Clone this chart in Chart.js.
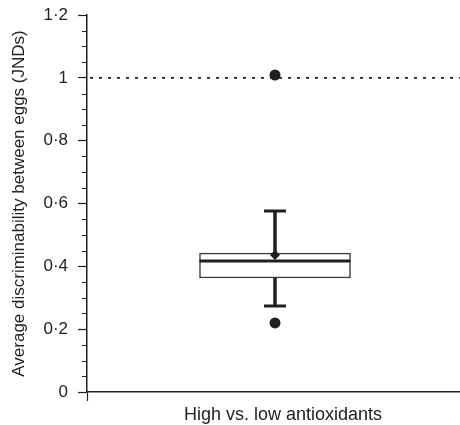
<!DOCTYPE html>
<html>
<head>
<meta charset="utf-8">
<script src="https://cdn.jsdelivr.net/npm/chart.js@4.4.1/dist/chart.umd.min.js"></script>
<style>
html,body{margin:0;padding:0;background:#fff;overflow:hidden;}
#wrap{width:463px;height:425px;position:relative;}
</style>
</head>
<body>
<div id="wrap"><canvas id="c"></canvas></div>
<script>
// ---- data ----
const categories = ['High vs. low antioxidants'];
const q1 = [0.363];
const q3 = [0.442];
const medians = [0.417];
const whiskerLow = [0.274];
const whiskerHigh = [0.576];
const means = [0.436];
const outliers = [[0.22, 1.009]];
const referenceValue = 1;
const yTickValues = [0, 0.2, 0.4, 0.6, 0.8, 1, 1.2];
const yMinorStep = 0.05;
const yTitle = 'Average discriminability between eggs (JNDs)';

const INK = '#231f20';
const FONT = "'Liberation Sans', Arial, Helvetica, sans-serif";

function fmt(v) {
  const r = Math.round(v * 10) / 10;
  return String(r).replace('.', '\u00b7');
}

const boxPlugin = {
  id: 'boxExtras',
  beforeDatasetsDraw(chart) {
    const {ctx, chartArea, scales: {y}} = chart;
    const py = y.getPixelForValue(referenceValue);
    ctx.save();
    ctx.strokeStyle = INK;
    ctx.lineWidth = 1.6;
    ctx.setLineDash([3, 6]);
    ctx.beginPath();
    ctx.moveTo(chartArea.left + 3, py);
    ctx.lineTo(chartArea.right, py);
    ctx.stroke();
    ctx.restore();
  },
  afterDatasetDraw(chart, args) {
    if (args.index !== 0) return;
    const {ctx, scales: {x, y}} = chart;
    const meta = chart.getDatasetMeta(0);
    ctx.save();
    ctx.strokeStyle = INK;
    categories.forEach((c, i) => {
      const bar = meta.data[i];
      const cx = x.getPixelForValue(i);
      const half = bar.width / 2;
      // median
      ctx.lineWidth = 3;
      ctx.beginPath();
      ctx.moveTo(cx - half, y.getPixelForValue(medians[i]));
      ctx.lineTo(cx + half, y.getPixelForValue(medians[i]));
      ctx.stroke();
      // whiskers
      ctx.lineWidth = 3.5;
      ctx.beginPath();
      ctx.moveTo(cx, y.getPixelForValue(q3[i]));
      ctx.lineTo(cx, y.getPixelForValue(whiskerHigh[i]));
      ctx.moveTo(cx, y.getPixelForValue(q1[i]));
      ctx.lineTo(cx, y.getPixelForValue(whiskerLow[i]));
      ctx.stroke();
      // caps
      ctx.lineWidth = 3;
      const capHalf = 11;
      ctx.beginPath();
      ctx.moveTo(cx - capHalf, y.getPixelForValue(whiskerHigh[i]));
      ctx.lineTo(cx + capHalf, y.getPixelForValue(whiskerHigh[i]));
      ctx.moveTo(cx - capHalf, y.getPixelForValue(whiskerLow[i]));
      ctx.lineTo(cx + capHalf, y.getPixelForValue(whiskerLow[i]));
      ctx.stroke();
    });
    ctx.restore();
  },
  afterDraw(chart) {
    const {ctx, scales: {y}} = chart;
    ctx.save();
    ctx.strokeStyle = INK;
    ctx.lineWidth = 1.2;
    const n = Math.round((y.max - y.min) / yMinorStep);
    ctx.beginPath();
    for (let k = 0; k <= n; k++) {
      if (k % 4 === 0) continue;
      const py = Math.round(y.getPixelForValue(y.min + k * yMinorStep)) + 0.5;
      ctx.moveTo(y.right - 5, py);
      ctx.lineTo(y.right, py);
    }
    ctx.stroke();
    ctx.restore();
  }
};

new Chart(document.getElementById('c'), {
  type: 'bar',
  data: {
    labels: categories,
    datasets: [
      {
        type: 'bar',
        data: categories.map((c, i) => [q1[i], q3[i]]),
        backgroundColor: '#ffffff',
        borderColor: '#3a3a3a',
        borderWidth: 1.5,
        borderSkipped: false,
        barThickness: 151,
        order: 3
      },
      {
        type: 'line',
        data: categories.flatMap((c, i) => outliers[i].map(v => ({x: c, y: v}))),
        showLine: false,
        pointRadius: 5.5,
        pointBackgroundColor: INK,
        pointBorderWidth: 0,
        order: 2
      },
      {
        type: 'line',
        data: categories.map((c, i) => ({x: c, y: means[i]})),
        showLine: false,
        pointStyle: 'rectRot',
        pointRadius: 5,
        pointBackgroundColor: INK,
        pointBorderWidth: 0,
        order: 1
      }
    ]
  },
  options: {
    responsive: true,
    maintainAspectRatio: false,
    animation: false,
    layout: {autoPadding: false, padding: {top: 15, right: 0, left: 0, bottom: 0}},
    plugins: {legend: {display: false}, tooltip: {enabled: false}},
    scales: {
      x: {
        type: 'category',
        offset: true,
        afterFit(s) { s.height = 33; s.paddingLeft = 0; s.paddingRight = 0; },
        border: {display: true, color: INK, width: 1.5},
        grid: {display: true, drawOnChartArea: false, drawTicks: true, tickLength: 9, tickColor: INK, tickWidth: 1.2, offset: true},
        ticks: {color: '#222', font: {family: FONT, size: 18}, padding: 3, labelOffset: 8, maxRotation: 0}
      },
      y: {
        type: 'linear',
        min: 0,
        max: 1.2,
        afterFit(s) { s.width = 87; s.paddingTop = 0; s.paddingBottom = 0; },
        afterBuildTicks(s) { s.ticks = yTickValues.map(v => ({value: v})); },
        border: {display: true, color: INK, width: 1.5},
        grid: {display: true, drawOnChartArea: false, drawTicks: true, tickLength: 9, tickColor: INK, tickWidth: 1.2},
        ticks: {color: '#222', font: {family: FONT, size: 17}, padding: 10, callback: v => fmt(v)},
        title: {display: true, text: yTitle, color: '#222', font: {family: FONT, size: 17}, padding: {top: 9, bottom: 0}}
      }
    }
  },
  plugins: [boxPlugin]
});
</script>
</body>
</html>
